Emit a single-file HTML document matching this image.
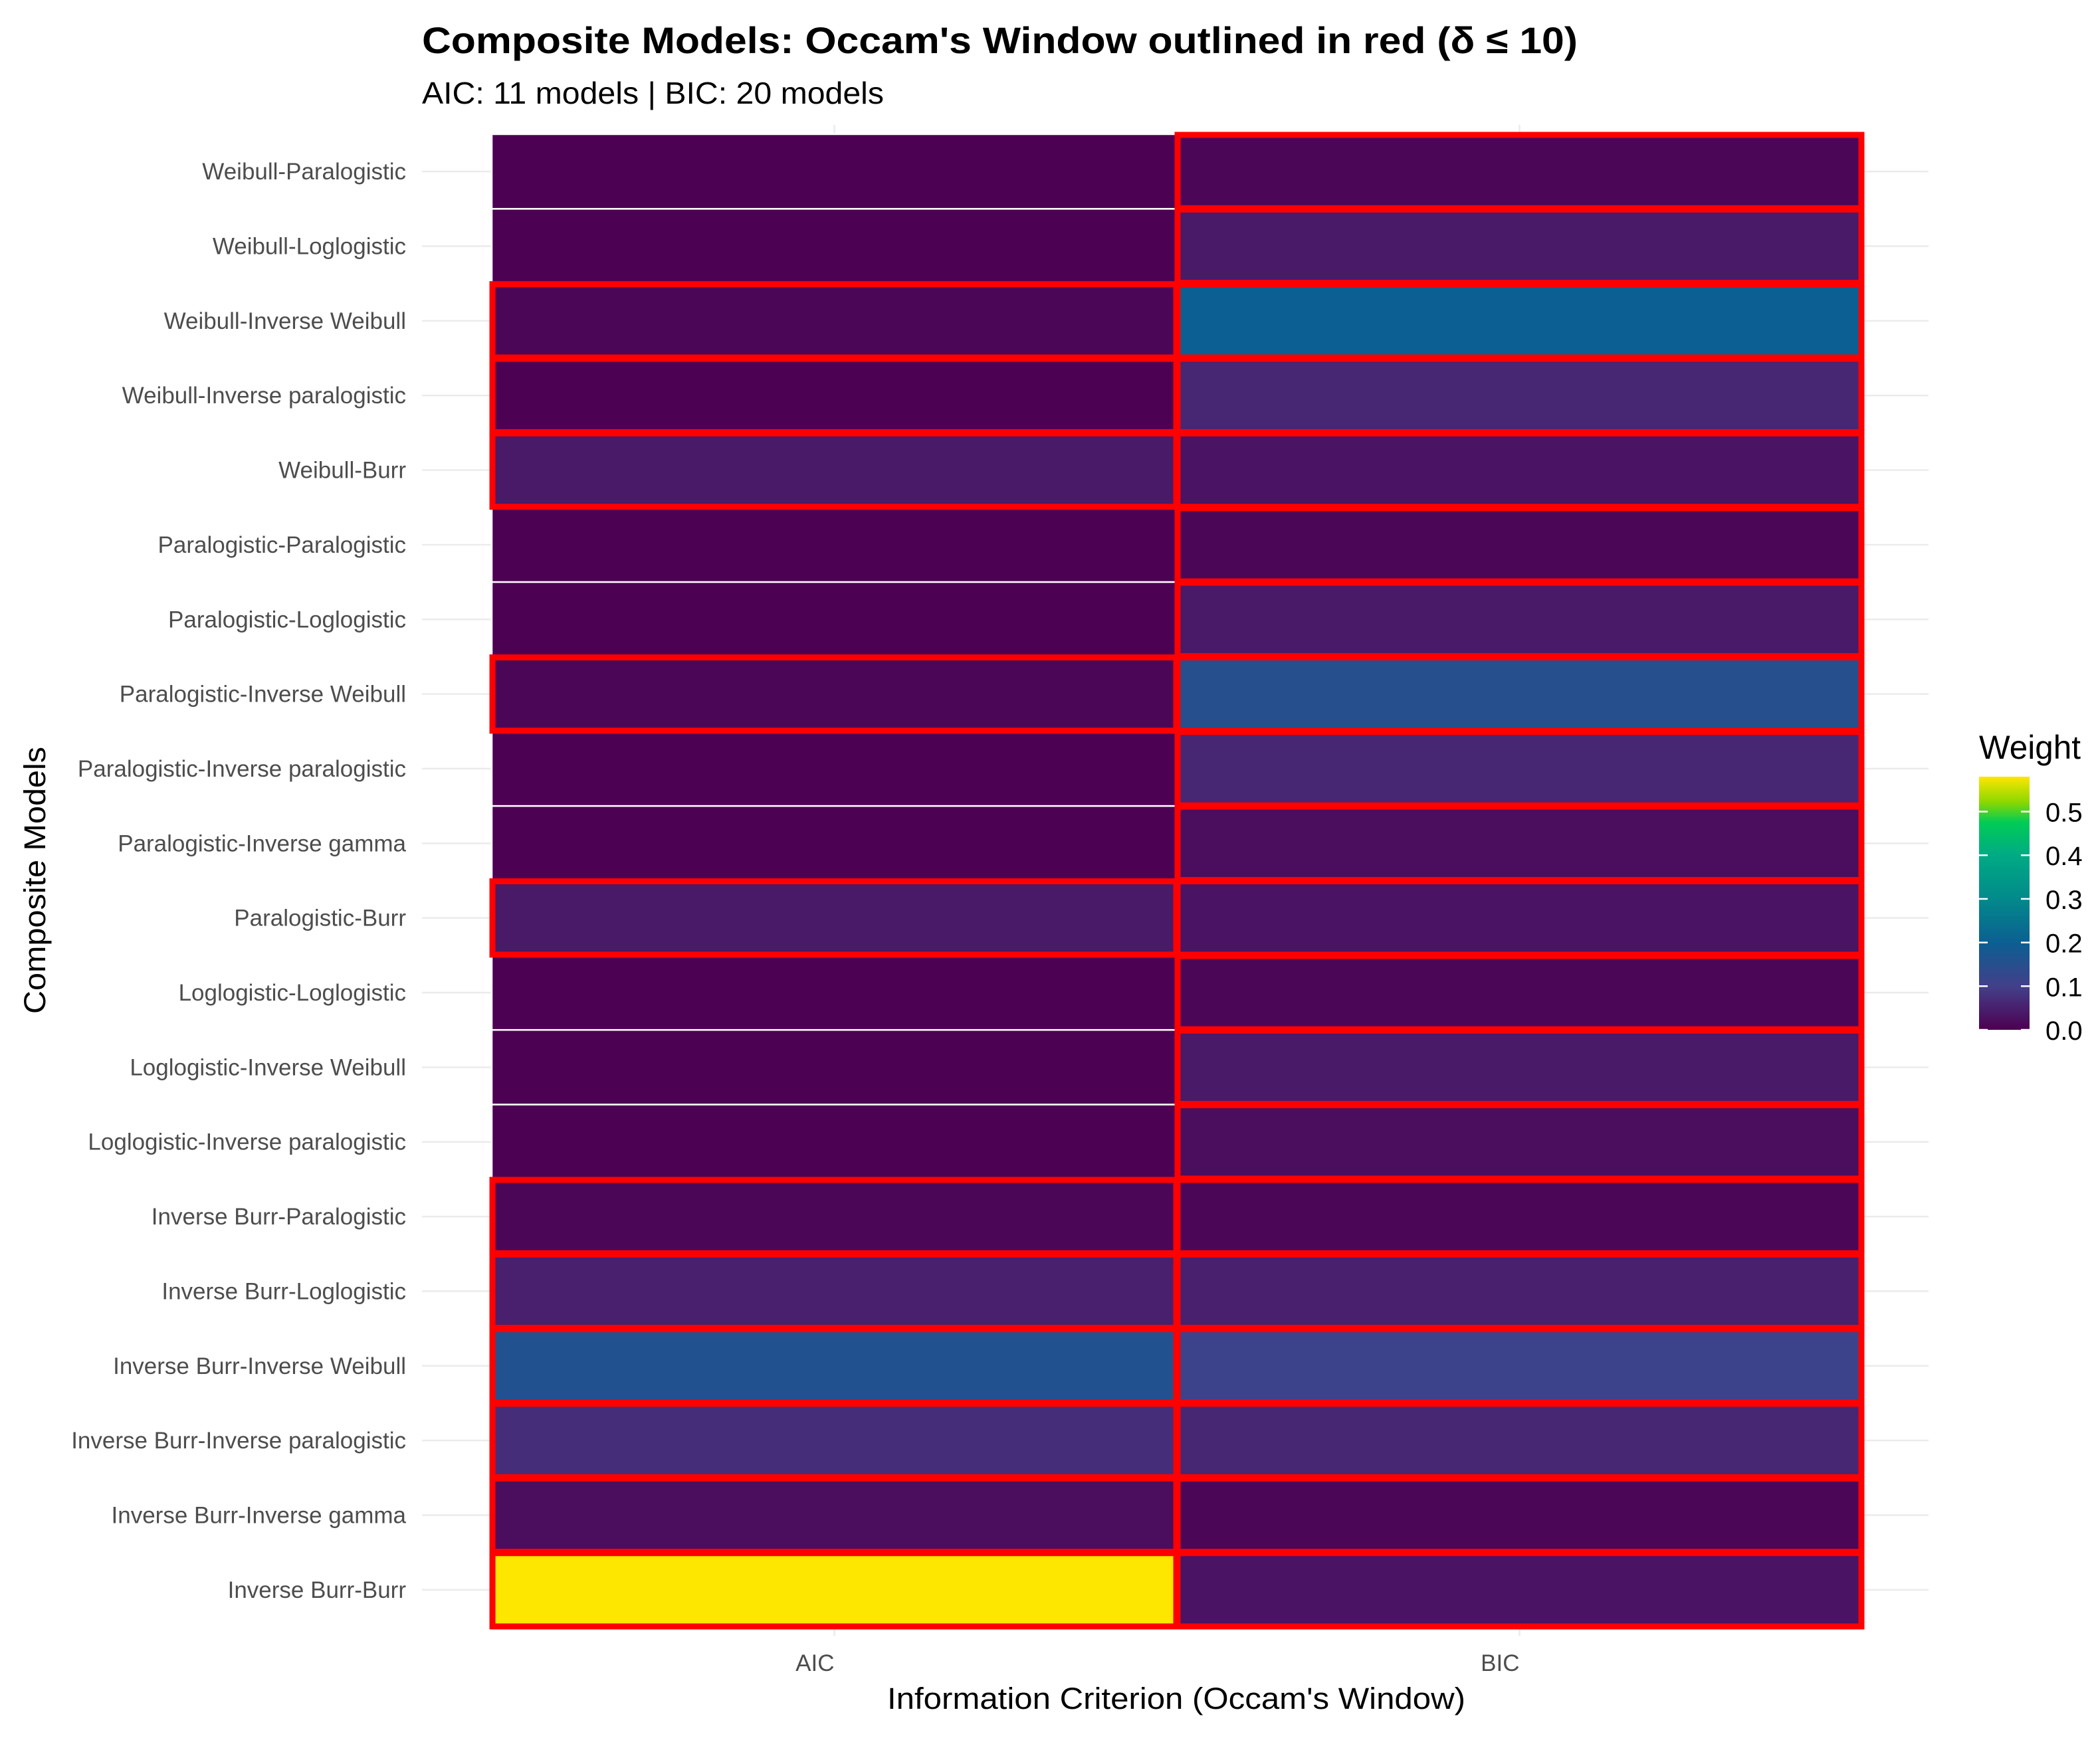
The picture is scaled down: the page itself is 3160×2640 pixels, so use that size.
<!DOCTYPE html>
<html><head><meta charset="utf-8"><style>
html,body{margin:0;padding:0;background:#fff;}
svg{display:block;font-family:"Liberation Sans",Arial,sans-serif;}
</style></head><body>
<svg id="chart" width="3160" height="2640" viewBox="0 0 3160 2640" xmlns="http://www.w3.org/2000/svg">
<defs>
<linearGradient id="vir" x1="0" y1="1" x2="0" y2="0">
<stop offset="0" stop-color="#4d0052"/><stop offset="0.17" stop-color="#433f89"/><stop offset="0.34" stop-color="#0c5e92"/><stop offset="0.52" stop-color="#028a8b"/><stop offset="0.69" stop-color="#00ab84"/><stop offset="0.82" stop-color="#00cc55"/><stop offset="0.9" stop-color="#8cd800"/><stop offset="1" stop-color="#fde600"/>
</linearGradient>
</defs>
<text x="635" y="80" font-size="56" font-weight="bold" fill="#000" textLength="1739" lengthAdjust="spacingAndGlyphs">Composite Models: Occam's Window outlined in red (δ ≤ 10)</text>
<text x="635" y="156" font-size="46" fill="#000" textLength="695" lengthAdjust="spacingAndGlyphs">AIC: 11 models | BIC: 20 models</text>
<g id="grid"></g>
<g id="tiles"></g>
<g id="outlines"></g>
<g id="ylabels"></g>
<g id="xlabels"></g>
<text transform="translate(68,1325) rotate(-90)" text-anchor="middle" font-size="45" fill="#000" textLength="402" lengthAdjust="spacingAndGlyphs">Composite Models</text>
<text x="1770" y="2572" text-anchor="middle" font-size="45" fill="#000" textLength="870" lengthAdjust="spacingAndGlyphs">Information Criterion (Occam's Window)</text>
<g>
<text x="2978" y="1142" font-size="50" fill="#000" textLength="153" lengthAdjust="spacingAndGlyphs">Weight</text>
<rect x="2978" y="1169" width="76" height="381" fill="url(#vir)"/>
<g id="legticks"></g>
</g>
</svg>
<script>
const models = ["Weibull-Paralogistic","Weibull-Loglogistic","Weibull-Inverse Weibull","Weibull-Inverse paralogistic","Weibull-Burr","Paralogistic-Paralogistic","Paralogistic-Loglogistic","Paralogistic-Inverse Weibull","Paralogistic-Inverse paralogistic","Paralogistic-Inverse gamma","Paralogistic-Burr","Loglogistic-Loglogistic","Loglogistic-Inverse Weibull","Loglogistic-Inverse paralogistic","Inverse Burr-Paralogistic","Inverse Burr-Loglogistic","Inverse Burr-Inverse Weibull","Inverse Burr-Inverse paralogistic","Inverse Burr-Inverse gamma","Inverse Burr-Burr"];
const criteria = ["AIC","BIC"];
const aicWeights = [0.001,0.001,0.01,0.002,0.04,0.001,0.002,0.01,0.002,0.002,0.04,0.001,0.002,0.002,0.01,0.05,0.16,0.07,0.02,0.58];
const bicWeights = [0.01,0.04,0.2,0.06,0.03,0.01,0.04,0.15,0.06,0.02,0.03,0.01,0.04,0.02,0.01,0.05,0.11,0.06,0.01,0.03];
const aicInWindow = [0,0,1,1,1,0,0,1,0,0,1,0,0,0,1,1,1,1,1,1];
const bicInWindow = [1,1,1,1,1,1,1,1,1,1,1,1,1,1,1,1,1,1,1,1];
const legendTicks = [0,0.1,0.2,0.3,0.4,0.5];

const NS="http://www.w3.org/2000/svg";
const X0=740, X1=2802, Y0=202, Y1=2449, WMAX=0.58;
const LB=1550, LH=381;
const colW=(X1-X0)/criteria.length, rowH=(Y1-Y0)/models.length;
const xPos=i=>X0+i*colW;
const yPos=j=>Y0+j*rowH;
const stops=[[0,[77,0,82]],[0.17,[67,63,137]],[0.34,[12,94,146]],[0.52,[2,138,139]],[0.69,[0,171,132]],[0.82,[0,204,85]],[0.9,[140,216,0]],[1,[253,230,0]]];
function color(v){let t=Math.max(0,Math.min(1,v/WMAX));for(let k=1;k<stops.length;k++){if(t<=stops[k][0]){const a=stops[k-1],b=stops[k];const f=(t-a[0])/(b[0]-a[0]);const c=a[1].map((x,i)=>Math.round(x+(b[1][i]-x)*f));return `rgb(${c.join(",")})`;}}return "rgb(253,230,0)";}
function mk(tag,attrs,parent){const e=document.createElementNS(NS,tag);for(const k in attrs)e.setAttribute(k,attrs[k]);parent.appendChild(e);return e;}
const grid=document.getElementById('grid'),tiles=document.getElementById('tiles'),outl=document.getElementById('outlines'),yl=document.getElementById('ylabels'),xl=document.getElementById('xlabels'),lt=document.getElementById('legticks');
models.forEach((m,j)=>{
  const cy=yPos(j)+rowH/2;
  const g=mk('line',{x1:635,x2:2902,y1:cy,y2:cy,stroke:'#ebebeb','stroke-width':2.5},grid);
  
  
  const t=mk('text',{x:611,y:cy+12,'text-anchor':'end','font-size':35,fill:'#4d4d4d'},yl);
  t.textContent=m;
  
  
});
criteria.forEach((c,i)=>{
  const cx=xPos(i)+colW/2;
  const g=mk('line',{x1:cx,x2:cx,y1:188,y2:2462,stroke:'#ebebeb','stroke-width':2.5},grid);
  
  
  const t=mk('text',{x:cx,y:2515,'text-anchor':'end','font-size':35,fill:'#4d4d4d'},xl);
  t.textContent=c;
  
  
});
const series=[aicWeights,bicWeights], wins=[aicInWindow,bicInWindow];
series.forEach((vals,i)=>{vals.forEach((v,j)=>{
  const r=mk('rect',{x:xPos(i),y:yPos(j),width:colW,height:rowH,fill:color(v),stroke:'#fff','stroke-width':2.5},tiles);
  
  
});});
wins.forEach((w,i)=>{w.forEach((f,j)=>{ if(!f)return;
  const r=mk('rect',{x:xPos(i)+1,y:yPos(j)+1,width:colW-2,height:rowH-2,fill:'none',stroke:'#ff0000','stroke-width':9},outl);
  
  
});});
legendTicks.forEach(v=>{
  const y=LB-v/WMAX*LH;
  const a=mk('line',{x1:2978,x2:2991,y1:y,y2:y,stroke:'#fff','stroke-width':2.5},lt);
  
  
  const b=mk('line',{x1:3041,x2:3054,y1:y,y2:y,stroke:'#fff','stroke-width':2.5},lt);
  
  
  const t=mk('text',{x:3078,y:y+15,'font-size':40,fill:'#000'},lt);
  t.textContent=v.toFixed(1);
  
  
});
</script>
</body></html>
